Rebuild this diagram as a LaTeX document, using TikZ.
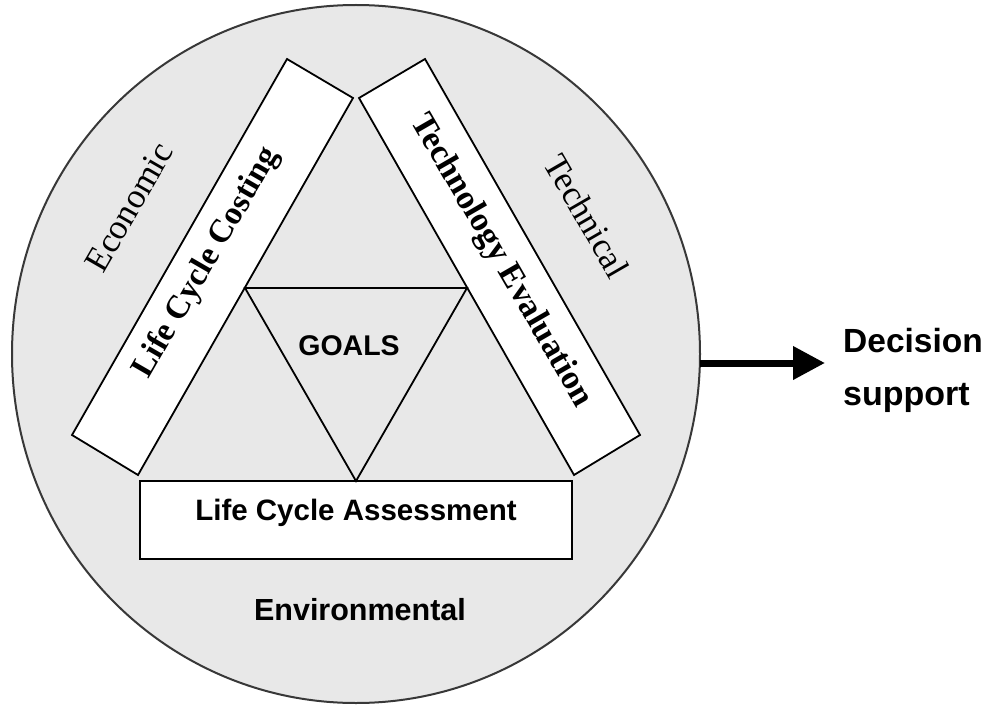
\documentclass[tikz,border=0pt]{standalone}
\usepackage{fontspec}
\setmainfont{Liberation Serif}
\newfontfamily\arialfont{Liberation Sans}
\usetikzlibrary{shapes.geometric,arrows.meta}
\definecolor{discgray}{HTML}{E8E8E8}
\definecolor{rimgray}{HTML}{383838}
\begin{document}
\begin{tikzpicture}[x=1pt,y=-1pt,
  barshape/.style={draw=black,line width=1.8pt,fill=white,line join=miter},
  goalline/.style={draw=black,line width=1.8pt,line join=miter},
  serifreg/.style={inner sep=0pt,font=\fontsize{35}{40}\selectfont},
  serifbold/.style={inner sep=0pt,font=\bfseries\fontsize{33}{40}\selectfont},
  sansbold/.style={inner sep=0pt,font=\arialfont\bfseries\fontsize{#1}{#1}\selectfont},
  bigarrow/.style={line width=7pt,-{Triangle[length=32pt,width=32pt]}}]
\useasboundingbox (0,0) rectangle (991,706);
% disc
\node[ellipse,draw=rimgray,line width=2pt,fill=discgray,minimum width=688pt,minimum height=698pt,inner sep=0pt,outer sep=0pt] (disc) at (356,354) {};
% bars
\draw[barshape] (287,59) -- (353,98) -- (138,475) -- (72,435) -- cycle;
\draw[barshape] (425,59) -- (359,98) -- (574,475) -- (640,435) -- cycle;
\node[barshape,minimum width=432pt,minimum height=78pt,inner sep=0pt] (lca) at (356,520) {};
% goals triangle
\coordinate (gl) at (245,288);
\coordinate (gr) at (467,288);
\coordinate (gb) at (356,481);
\draw[goalline] (gl) -- (gr) -- (gb) -- cycle;
% texts
\node[serifreg,rotate=60] (econ) at (129,207) {Economic};
\node[serifreg,rotate=-60] (tech) at (587,216) {Technical};
\node[serifbold,rotate=60] (lcc) at (207,263) {Life Cycle Costing};
\node[serifbold,rotate=-60,font=\bfseries\fontsize{34}{40}\selectfont] (te) at (501,261) {Technology Evaluation};
\node[sansbold=29.5,anchor=base] (lcat) at (356,520) {Life Cycle Assessment};
\node[sansbold=30.5,anchor=base] (env) at (360,620) {Environmental};
\node[sansbold=28.5,anchor=base] (goals) at (349,355) {GOALS};
\node[sansbold=33.5,anchor=base west] (dec) at (843,352) {Decision};
\node[sansbold=34,anchor=base west] (sup) at (843,405) {support};
% arrow
\coordinate (tip) at (825,363);
\draw[bigarrow] (disc.east |- tip) -- (tip);
\end{tikzpicture}
\end{document}
